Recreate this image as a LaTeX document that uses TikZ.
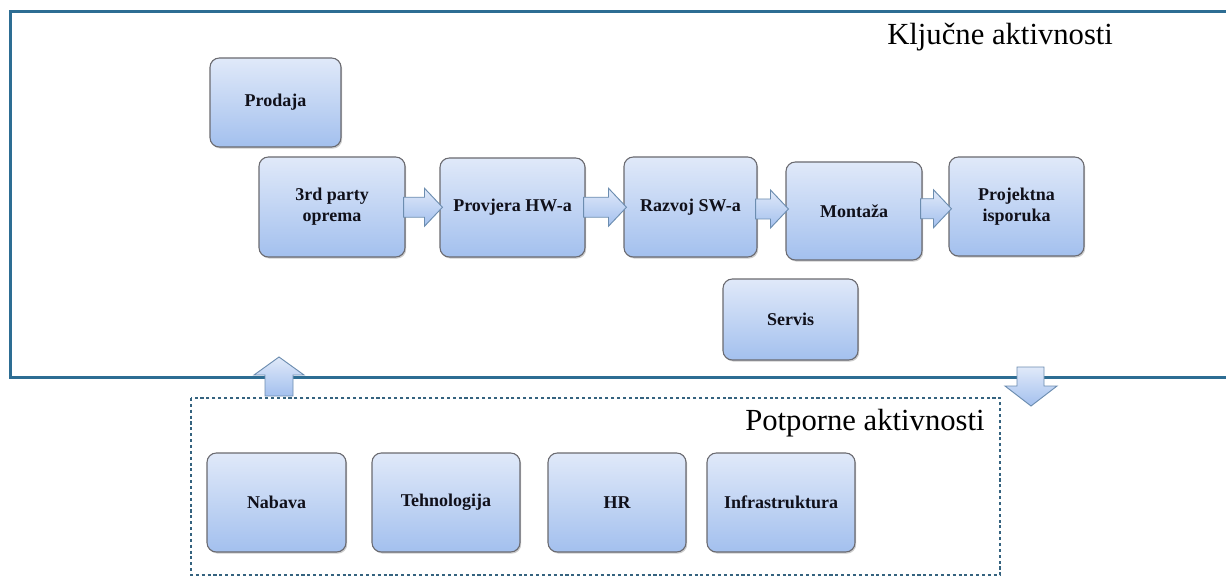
\documentclass[tikz,border=0pt]{standalone}
\usepackage{fontspec}
\setmainfont{Liberation Serif}
\usetikzlibrary{calc,shadows}
\definecolor{frameblue}{HTML}{2D6D93}
\definecolor{dotblue}{HTML}{35637F}
\definecolor{boxtop}{HTML}{E0E9F9}
\definecolor{boxbot}{HTML}{A3C0EE}
\definecolor{boxedge}{HTML}{6A6A70}
\definecolor{arredge}{HTML}{6C8DB0}
\definecolor{txt}{HTML}{10101A}
\newcommand\harrow[2]{%
  \draw[blockarr] let \p1=(#1.east), \p2=(#2.west), \n1={0.5*\y1+0.5*\y2} in
    (\x1-1.5pt,\n1+7.5pt) -- (\x2-11.25pt,\n1+7.5pt) -- (\x2-11.25pt,\n1+14.25pt)
    -- (\x2+2.25pt,\n1) -- (\x2-11.25pt,\n1-14.25pt) -- (\x2-11.25pt,\n1-7.5pt)
    -- (\x1-1.5pt,\n1-7.5pt) -- cycle;}
\begin{document}
\begin{tikzpicture}[x=0.75pt,y=-0.75pt,
  actbox/.style={draw=boxedge, line width=0.8pt, rounded corners=7pt,
    top color=boxtop, bottom color=boxbot, align=center,
    font=\bfseries\fontsize{13.5}{16}\selectfont, text=txt, inner sep=2pt,
    drop shadow={shadow xshift=0.9pt, shadow yshift=-1.2pt, opacity=0.4}},
  sz/.style 2 args={minimum width=#1*0.75pt, minimum height=#2*0.75pt},
  blockarr/.style={draw=arredge, line width=0.7pt, top color=boxtop,
    bottom color=boxbot, line join=miter},
  headtext/.style={font=\fontsize{23}{27}\selectfont, text=black, inner sep=0pt}
]
\useasboundingbox (0,0) rectangle (1226,577);
\clip (0,0) rectangle (1226,577);
\fill[white] (0,0) rectangle (1226,577);

% frames
\draw[frameblue, line width=2.25pt] (1240,377) -- (10,377) -- (10,12) -- (1240,12);
\draw[dotblue, line width=2.2pt, dash pattern=on 2.3pt off 2.1pt]
  (191,398) rectangle (1000,575);

\node[headtext, anchor=base west] (kljuc) at (887,45) {Ključne aktivnosti};
\node[headtext, anchor=base west] (potp) at (745,430) {Potporne aktivnosti};

% key activities
\node[actbox, sz={131}{89}]  (prodaja) at (275.5,102.5) {Prodaja};
\node[actbox, sz={146}{100}] (third)   at (332,207)     {3rd party\\oprema};
\node[actbox, sz={145}{99}]  (hw)      at (512.5,207.5) {Provjera HW-a};
\node[actbox, sz={133}{100}] (sw)      at (690.5,207)   {Razvoj SW-a};
\node[actbox, sz={136}{98}]  (montaza) at (854,211)     {Montaža};
\node[actbox, sz={135}{99}]  (proj)    at (1016.5,206.5){Projektna\\isporuka};
\node[actbox, sz={135}{81}]  (servis)  at (790.5,319.5) {Servis};

% support activities
\node[actbox, sz={139}{99}] (nabava) at (276.5,502.5) {Nabava};
\node[actbox, sz={148}{99}] (tehno)  at (446,502.5)   {Tehnologija};
\node[actbox, sz={138}{99}] (hr)     at (617,502.5)   {HR};
\node[actbox, sz={148}{99}] (infra)  at (781,502.5)   {Infrastruktura};

% flow arrows
\harrow{third}{hw}
\harrow{hw}{sw}
\harrow{sw}{montaza}
\harrow{montaza}{proj}

% up / down block arrows
\coordinate (upbase) at (279,396);
\coordinate (downtop) at (1031,367);
\draw[blockarr] (upbase) ++(-14,0) -- ++(0,-21) -- ++(-11,0) -- ++(25,-18)
  -- ++(25,18) -- ++(-11,0) -- ++(0,21) -- cycle;
\draw[blockarr] (downtop) ++(-14,0) -- ++(0,19) -- ++(-12,0) -- ++(26,20)
  -- ++(26,-20) -- ++(-13,0) -- ++(0,-19) -- cycle;
\end{tikzpicture}
\end{document}
